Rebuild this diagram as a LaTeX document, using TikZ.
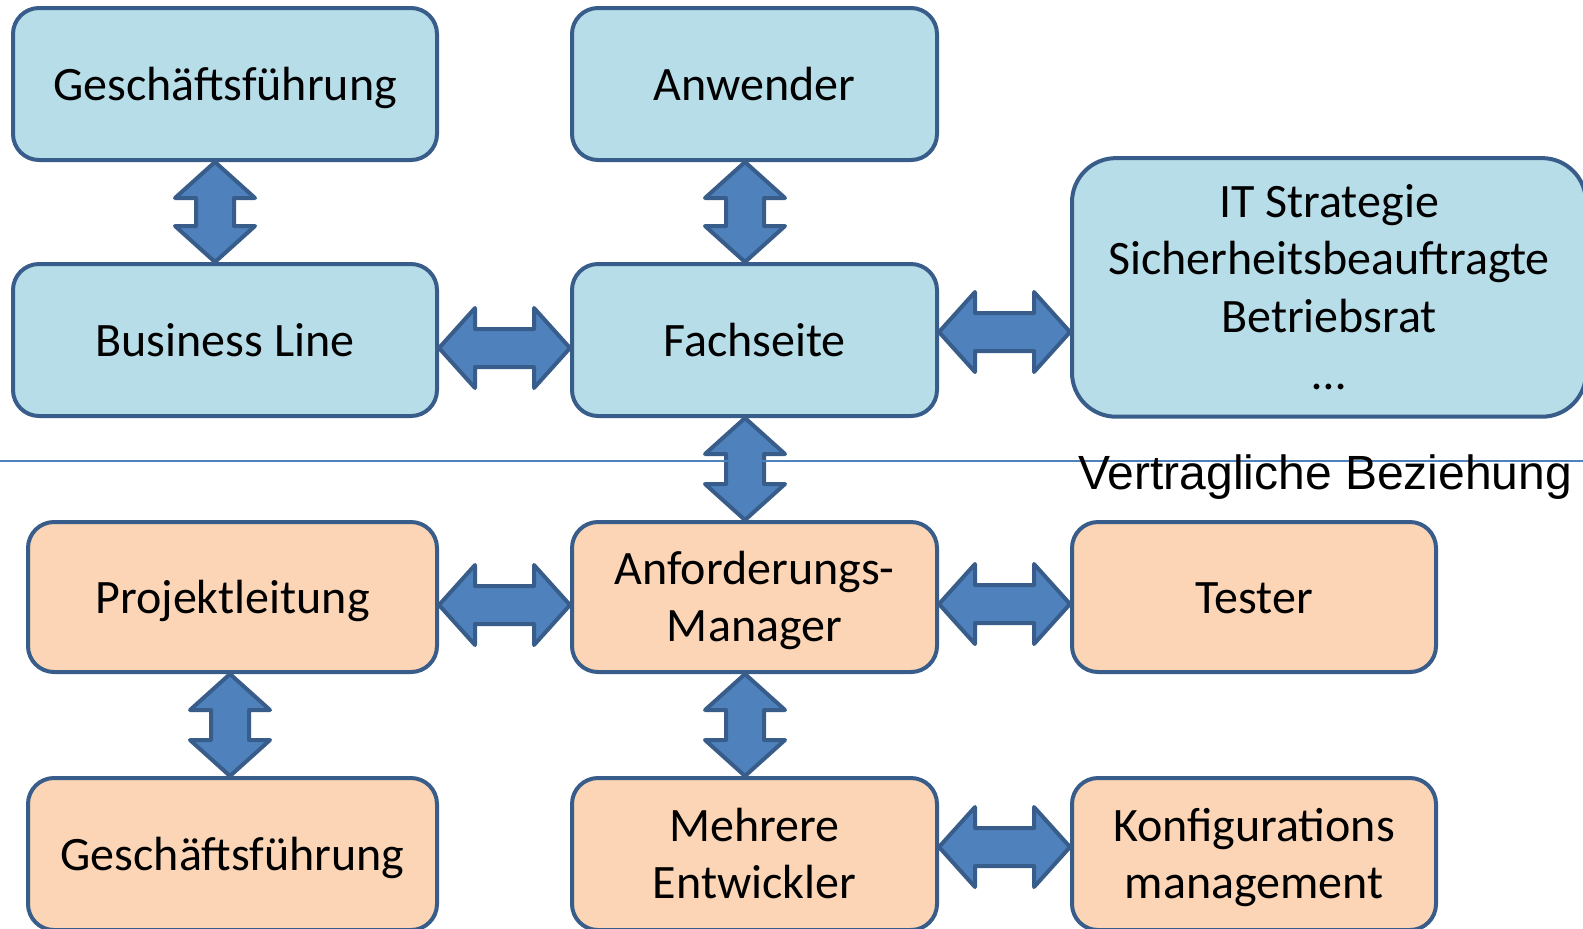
\documentclass[tikz,border=0pt]{standalone}
\usepackage{fontspec}
\setmainfont{Carlito}
\newfontfamily\arialfont{Liberation Sans}
\usetikzlibrary{calc}

\definecolor{boxline}{HTML}{385D8A}
\definecolor{bluefill}{HTML}{B7DDE8}
\definecolor{orangefill}{HTML}{FBD5B5}
\definecolor{arrowfill}{HTML}{4F81BD}

% block arrows with two heads, from #1 to #2
\newcommand{\harrow}[2]{%
  \draw[biarrow] let \p1=#1, \p2=#2 in
    (\x1,\y1) -- (\x1+18pt,\y1+20pt) -- (\x1+18pt,\y1+9.5pt) -- (\x2-18pt,\y1+9.5pt)
    -- (\x2-18pt,\y1+20pt) -- (\x2,\y1) -- (\x2-18pt,\y1-20pt) -- (\x2-18pt,\y1-9.5pt)
    -- (\x1+18pt,\y1-9.5pt) -- (\x1+18pt,\y1-20pt) -- cycle;}
\newcommand{\varrow}[2]{%
  \draw[biarrow] let \p1=#1, \p2=#2 in
    (\x1,\y1) -- (\x1+20pt,\y1-18pt) -- (\x1+9.5pt,\y1-18pt) -- (\x1+9.5pt,\y2+18pt)
    -- (\x1+20pt,\y2+18pt) -- (\x1,\y2) -- (\x1-20pt,\y2+18pt) -- (\x1-9.5pt,\y2+18pt)
    -- (\x1-9.5pt,\y1-18pt) -- (\x1-20pt,\y1-18pt) -- cycle;}

% line box struts, so text sits as in the slide
\newcommand{\upstrut}{\rule{0pt}{22.4pt}}
\newcommand{\downstrut}{\rule[-6.4pt]{0pt}{6.4pt}}

\begin{document}
\begin{tikzpicture}[
  x=0.5pt, y=-0.5pt,
  box/.style={draw=boxline, line width=2pt, rounded corners=13pt, align=center,
    inner sep=0pt, font=\fontsize{24}{28.6}\selectfont,
    execute at begin node=\upstrut, execute at end node=\downstrut},
  bluebox/.style={box, fill=bluefill},
  orangebox/.style={box, fill=orangefill},
  wide/.style={minimum width=212pt, minimum height=76pt},
  mid/.style={minimum width=182.5pt, minimum height=76pt},
  biarrow/.style={draw=boxline, fill=arrowfill, line width=2pt, line join=round}
]
\useasboundingbox (0,0) rectangle (1583,928);

% Auftraggeber
\node[bluebox, wide] (gfa) at (225,84) {Geschäftsführung};
\node[bluebox, mid] (anw) at (754.5,84) {Anwender};
\node[bluebox, wide] (bl) at (225,340) {Business Line};
\node[bluebox, mid] (fach) at (754.5,340) {Fachseite};
\node[bluebox, minimum width=257pt, minimum height=129.3pt, rounded corners=22pt]
  (it) at (1329,287.4) {\upstrut IT Strategie\\Sicherheitsbeauftragte\\Betriebsrat\\…\downstrut};

% Auftragnehmer
\node[orangebox, minimum width=204.5pt, minimum height=75pt] (pl) at (232.5,597) {Projektleitung};
\node[orangebox, mid, minimum height=75pt] (anf) at (754.5,597) {\upstrut Anforderungs-\\Manager\downstrut};
\node[orangebox, minimum width=182pt, minimum height=75pt] (tes) at (1254,597) {Tester};
\node[orangebox, minimum width=204.5pt, minimum height=76pt] (gfb) at (232.5,854) {Geschäftsführung};
\node[orangebox, mid] (me) at (754.5,854) {\upstrut Mehrere\\Entwickler\downstrut};
\node[orangebox, minimum width=182pt, minimum height=76pt] (konf) at (1254,854) {\upstrut Konfigurations\\management\downstrut};

\varrow{([xshift=-5pt]gfa.south)}{([xshift=-5pt]bl.north)}
\varrow{([xshift=-4.75pt]anw.south)}{([xshift=-4.75pt]fach.north)}
\harrow{([yshift=-4pt]bl.east)}{(fach.west)}
\harrow{([yshift=4pt]fach.east)}{(it.west)}
\varrow{([xshift=-4.75pt]fach.south)}{([xshift=-4.75pt]anf.north)}
\harrow{([yshift=-4pt]pl.east)}{(anf.west)}
\harrow{([yshift=-3.5pt]anf.east)}{(tes.west)}
\varrow{([xshift=-1.25pt]pl.south)}{([xshift=-1.25pt]gfb.north)}
\varrow{([xshift=-4.75pt]anf.south)}{([xshift=-4.75pt]me.north)}
\harrow{([yshift=3.5pt]me.east)}{(konf.west)}

% Trennlinie
\draw[arrowfill, line width=1pt] (0,461) -- (1583,461);
\node[anchor=base west, inner sep=0pt, font=\arialfont\fontsize{24}{29}\selectfont]
  (vb) at (1078,489) {Vertragliche Beziehung};
\end{tikzpicture}
\end{document}
